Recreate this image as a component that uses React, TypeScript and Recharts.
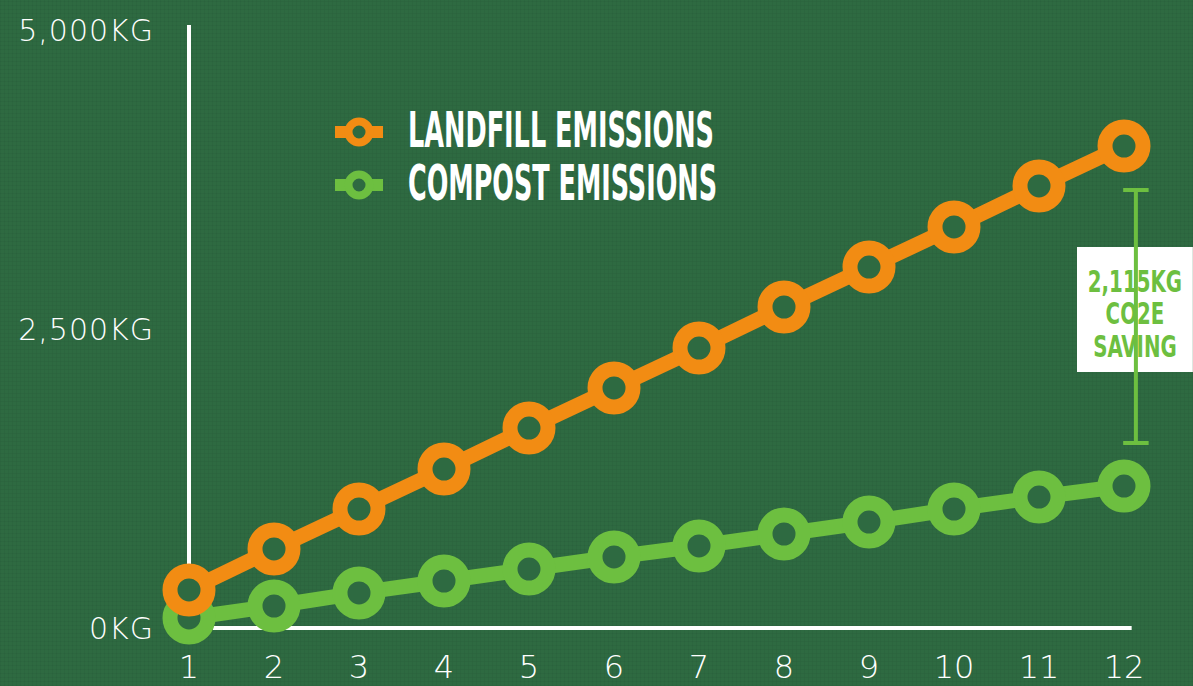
import React from "react";
import {
  LineChart, Line, XAxis, YAxis, ReferenceLine, ReferenceArea, Legend
} from "recharts";

const BG = "#2e6a41";
const ORANGE = "#f28c13";
const GREEN = "#6dbf40";

// x categories (years) and emissions
const years = [1, 2, 3, 4, 5, 6, 7, 8, 9, 10, 11, 12];
const landfillKg = [318, 661, 995, 1329, 1672, 2007, 2341, 2684, 3018, 3353, 3696, 4030];
const compostKg = [84, 184, 293, 393, 493, 594, 686, 786, 886, 995, 1095, 1187];
const yTicks = [0, 2500, 5000];

// annotation bracket / callout, in data units
const savingLines = ["2,115KG", "CO2E", "SAVING"];
const bracketX = 12.14;
const bracketCap = [11.99, 12.29];
const bracketY = [1547, 3662];
const boxX = [11.447, 12.81];
const boxY = [2140, 3186];
const axisTopKg = 5042;
const xAxisStart = 1.28;
const xAxisEnd = 12.09;

const legendWidths = [306, 309];
const LEGEND_SX = 0.6;

const data = years.map((year, i) => ({
  year,
  landfill: landfillKg[i],
  compost: compostKg[i],
}));

const ringDot = (color: string) => (props: any) => {
  const { cx, cy, index } = props;
  if (cx == null || cy == null) return null;
  return (
    <circle key={`d-${color}-${index}`} cx={cx} cy={cy} r={19}
      fill={BG} stroke={color} strokeWidth={15} />
  );
};

function LegendContent(props: any) {
  const items = (props.payload || []).slice().reverse();
  return (
    <svg width={800} height={110} style={{ display: "block", overflow: "visible" }}>
      {items.map((it: any, i: number) => {
        const cy = 32 + i * 53;
        return (
          <g key={it.value}>
            <line x1={5} x2={53} y1={cy} y2={cy} stroke={it.color} strokeWidth={12} />
            <circle cx={29} cy={cy} r={10.5} fill={BG} stroke={it.color} strokeWidth={8} />
            <text transform={`translate(78 ${cy + 15}) scale(${LEGEND_SX} 1)`}
              fill="#fff" fontSize={49} fontWeight="bold"
              fontFamily="'DejaVu Sans Condensed', 'DejaVu Sans', sans-serif"
              textLength={legendWidths[i] / LEGEND_SX} lengthAdjust="spacingAndGlyphs">
              {it.value}
            </text>
          </g>
        );
      })}
    </svg>
  );
}

function SavingLabel(props: any) {
  const vb = props.viewBox || {};
  const cx = vb.x + vb.width / 2;
  return (
    <g>
      {savingLines.map((t, i) => (
        <text key={t} transform={`translate(${cx} ${vb.y + 45 + i * 32.5}) scale(0.71 1)`}
          textAnchor="middle" fill={GREEN} fontSize={31} fontWeight="bold"
          fontFamily="'DejaVu Sans Condensed', 'DejaVu Sans', sans-serif">
          {t}
        </text>
      ))}
    </g>
  );
}

const tickFont = {
  fill: "#ffffff",
  fontFamily: "'DejaVu Sans', sans-serif",
  fontWeight: 200,
};

export default function App() {
  return (
    <div
      style={{
        position: "absolute", left: 0, top: 0, width: 1193, height: 686,
        overflow: "hidden",
        backgroundColor: BG,
        backgroundImage:
          "repeating-linear-gradient(0deg, rgba(0,0,0,0.035) 0 1px, transparent 1px 4px), repeating-linear-gradient(90deg, rgba(0,0,0,0.035) 0 1px, transparent 1px 4px)",
      }}
    >
      <LineChart width={1193} height={686} data={data}
        margin={{ top: 30, right: 69, bottom: 0, left: 0 }}>
        <XAxis type="number" dataKey="year" domain={[1, 12]} ticks={years} interval={0}
          axisLine={false} tickLine={false} tickSize={0} tickMargin={27} height={58}
          tick={{ ...tickFont, fontSize: 32 }} />
        <YAxis type="number" domain={[0, 5000]} ticks={yTicks} interval={0} width={189}
          axisLine={false} tickLine={false} tickSize={0} tickMargin={35}
          tickFormatter={(v: number) => v.toLocaleString("en-US") + "KG"}
          tick={{ ...tickFont, fontSize: 30, letterSpacing: 1 }} />
        <ReferenceLine segment={[{ x: 1, y: 0 }, { x: 1, y: axisTopKg }]}
          stroke="#fff" strokeWidth={4} ifOverflow="visible" />
        <ReferenceLine segment={[{ x: xAxisStart, y: 0 }, { x: xAxisEnd, y: 0 }]}
          stroke="#fff" strokeWidth={4} ifOverflow="visible" />
        <Legend layout="horizontal" verticalAlign="middle" align="center"
          wrapperStyle={{ left: 330, top: 100, width: 800, height: 110 }}
          content={<LegendContent />} />
        <Line type="linear" dataKey="compost" name="COMPOST EMISSIONS" stroke={GREEN}
          strokeWidth={15} dot={ringDot(GREEN)} activeDot={false} isAnimationActive={false} />
        <Line type="linear" dataKey="landfill" name="LANDFILL EMISSIONS" stroke={ORANGE}
          strokeWidth={15} dot={ringDot(ORANGE)} activeDot={false} isAnimationActive={false} />
        <ReferenceLine segment={[{ x: bracketX, y: bracketY[0] }, { x: bracketX, y: bracketY[1] }]}
          stroke={GREEN} strokeWidth={4} ifOverflow="visible" />
        <ReferenceLine segment={[{ x: bracketCap[0], y: bracketY[0] }, { x: bracketCap[1], y: bracketY[0] }]}
          stroke={GREEN} strokeWidth={4} ifOverflow="visible" />
        <ReferenceLine segment={[{ x: bracketCap[0], y: bracketY[1] }, { x: bracketCap[1], y: bracketY[1] }]}
          stroke={GREEN} strokeWidth={4} ifOverflow="visible" />
        <ReferenceArea x1={boxX[0]} x2={boxX[1]} y1={boxY[0]} y2={boxY[1]}
          fill="#ffffff" fillOpacity={1} stroke="none" ifOverflow="visible"
          label={<SavingLabel />} />
      </LineChart>
    </div>
  );
}
